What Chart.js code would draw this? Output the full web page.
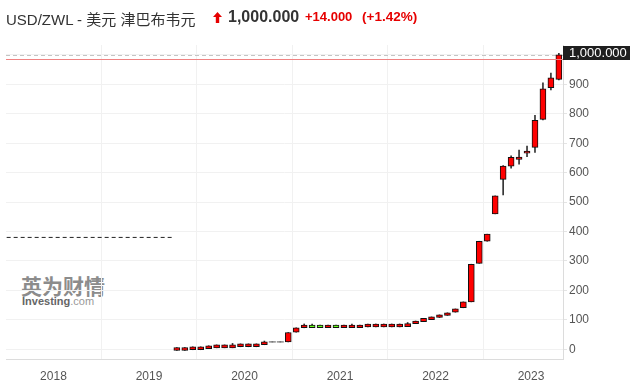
<!DOCTYPE html>
<html>
<head>
<meta charset="utf-8">
<script src="https://cdn.jsdelivr.net/npm/chart.js@4/dist/chart.umd.min.js"></script>
<style>
  body { margin:0; background:#fff; }
  #wrap { position:relative; width:630px; height:389px; overflow:hidden; }
  #c { position:absolute; left:0; top:0; z-index:2; }
  .t { position:absolute; white-space:nowrap; line-height:20px; z-index:3; }
  .wm { position:absolute; z-index:1; white-space:nowrap; }
</style>
</head>
<body>
<div id="wrap">
  <div class="wm" style="left:21px;top:273px;color:#8c8c8c;font:bold 21px 'Noto Sans CJK SC';line-height:24px;">英为财情</div>
  <div class="wm" style="left:22px;top:295px;font:11px 'Liberation Sans',Arial,sans-serif;line-height:13px;"><b style="color:#666">Investing</b><span style="color:#999">.com</span></div>
  <canvas id="c" width="630" height="389"></canvas>
  <div class="t" style="left:6px;top:8px;font:15px 'Liberation Sans','Noto Sans CJK SC',sans-serif;color:#333;">USD/ZWL - 美元 津巴布韦元</div>
  <svg class="t" style="left:213px;top:12px" width="9" height="11" viewBox="0 0 9 11"><polygon points="4.5,0 9,5 6.2,5 6.2,11 2.8,11 2.8,5 0,5" fill="#e60000"/></svg>
  <div class="t" style="left:228px;top:8px;font:bold 16px 'Liberation Sans',Arial,sans-serif;color:#333;">1,000.000</div>
  <div class="t" style="left:305px;top:9px;font:bold 13px 'Liberation Sans',Arial,sans-serif;color:#e60000;">+14.000</div>
  <div class="t" style="left:362px;top:9px;font:bold 13.5px 'Liberation Sans',Arial,sans-serif;color:#e60000;">(+1.42%)</div>
</div>
<script>
// ---- data (monthly candles, USD/ZWL) ----
const months = ['2019-04','2019-05','2019-06','2019-07','2019-08','2019-09','2019-10','2019-11','2019-12',
  '2020-01','2020-02','2020-03','2020-04','2020-05','2020-06','2020-07','2020-08','2020-09','2020-10','2020-11','2020-12',
  '2021-01','2021-02','2021-03','2021-04','2021-05','2021-06','2021-07','2021-08','2021-09','2021-10','2021-11','2021-12',
  '2022-01','2022-02','2022-03','2022-04','2022-05','2022-06','2022-07','2022-08','2022-09','2022-10','2022-11','2022-12',
  '2023-01','2023-02','2023-03','2023-04'];
const opens  = [-4,-4,-1.5,-1.5,2,5,5,5,8.5, 8.5,8.5,15.5,25,25,25,58,73,82,82,73,82, 73,73,73,76,76,76,76,76,77,87,94,101, 108,115,126,141,161,292,367,460,577,622,645,666, 686,781,889,917];
const closes = [6,6,8.5,8.5,12,15,15,15,18.5, 18.5,18.5,25.5,25,25,57,73,82,73,73,82,73, 82,82,82,86,86,86,86,86,87,96,105,110, 117,124,137,161,289,367,391,521,622,652,653,673, 778,885,922,1000];
const highs  = [6,6,8.5,8.5,12,15,15,20,18.5, 18.5,18.5,28,25,25,57,73,86,86,82,82,82, 82,86,82,86,86,86,86,86,91,96,105,110, 117,124,137,161,289,367,391,521,624,657,677,690, 795,905,938,1005];
const lows   = [-4,-4,-1.5,-1.5,2,5,5,5,8.5, 8.5,8.5,15.5,25,25,25,58,73,73,73,73,73, 73,73,73,76,76,76,76,76,77,87,94,101, 108,115,126,141,161,292,367,460,524,615,629,654, 669,779,881,915];
const yTicks = [0,100,200,300,400,500,600,700,800,900,1000];
const xTicks = [2018,2019,2020,2021,2022,2023];
const lastPrice = 1000;
const prevClose = 986;
const lastLabel = '1,000.000';
const refLineX = [2017.51, 2019.24];
const refLineY = [380, 380];

// ---- build ----
const xs = months.map(m => { const [y, mo] = m.split('-').map(Number); return y + (mo - 0.5) / 12; });
const bodies = xs.map((x, i) => ({ x, y: opens[i] === closes[i] ? null : [opens[i], closes[i]] }));
const bodyColors = xs.map((x, i) => closes[i] >= opens[i] ? '#ff0000' : '#66ff1a');
const wicks = xs.map((x, i) => ({ x, y: [lows[i], highs[i]] }));
const flats = xs.map((x, i) => ({ x, y: opens[i] })).filter((p, i) => opens[i] === closes[i]);

Chart.defaults.font.family = "'Liberation Sans', Arial, sans-serif";
Chart.defaults.font.size = 12;
Chart.defaults.color = '#555';

const overlay = {
  id: 'overlay',
  beforeDatasetsDraw(chart) {
    const ctx = chart.ctx, a = chart.chartArea, ys = chart.scales.y;
    ctx.save();
    ctx.lineWidth = 1;
    const py = Math.round(ys.getPixelForValue(lastPrice)) + 0.5;
    ctx.strokeStyle = '#c4c4c4';
    ctx.setLineDash([4, 3]);
    ctx.beginPath(); ctx.moveTo(a.left, py); ctx.lineTo(a.right, py); ctx.stroke();
    ctx.restore();
  },
  afterDraw(chart) {
    const ctx = chart.ctx, a = chart.chartArea, ys = chart.scales.y;
    ctx.save();
    const ry = Math.round(ys.getPixelForValue(prevClose));
    ctx.fillStyle = 'rgb(240,130,130)';
    ctx.fillRect(a.left, ry, a.right - a.left, 1);
    const py = ys.getPixelForValue(lastPrice) - 2;
    ctx.fillStyle = '#1f1f1f';
    ctx.fillRect(a.right, Math.round(py - 7), chart.width - a.right, 14);
    ctx.fillStyle = '#ffffff';
    ctx.font = "13px 'Liberation Sans', Arial, sans-serif";
    ctx.textBaseline = 'middle';
    ctx.textAlign = 'left';
    ctx.fillText(lastLabel, a.right + 6, py + 0.5);
    ctx.restore();
  }
};

new Chart(document.getElementById('c'), {
  type: 'bar',
  data: {
    datasets: [
      { type: 'bar', data: bodies, backgroundColor: bodyColors, borderColor: '#111', borderWidth: 1,
        borderSkipped: false, barThickness: 6, grouped: false, order: 0 },
      { type: 'line', data: flats, showLine: false, pointStyle: 'line', pointRadius: 3.5,
        borderColor: '#555', borderWidth: 1, order: 1 },
      { type: 'bar', data: wicks, backgroundColor: '#333', borderWidth: 0, barThickness: 1, grouped: false, order: 2 },
      { type: 'line', data: refLineX.map((x, i) => ({ x, y: refLineY[i] })), borderColor: '#222', borderWidth: 1,
        borderDash: [4, 3], pointRadius: 0, order: 3 }
    ]
  },
  options: {
    responsive: false,
    devicePixelRatio: 1,
    animation: false,
    layout: { padding: { top: 45, left: 6, right: 0, bottom: 0 } },
    plugins: { legend: { display: false }, tooltip: { enabled: false } },
    scales: {
      x: {
        type: 'linear', offset: false, min: 2017.503, max: 2023.335,
        afterBuildTicks: s => { s.ticks = xTicks.map(v => ({ value: v })); },
        afterFit: s => { s.height = 30; },
        ticks: { callback: v => String(v), padding: 10, maxRotation: 0, color: '#555' },
        grid: { color: '#f1f1f1', drawTicks: false },
        border: { color: '#dcdcdc' }
      },
      y: {
        position: 'right', min: -33, max: 1033.6,
        afterBuildTicks: s => { s.ticks = yTicks.map(v => ({ value: v })); },
        afterFit: s => { s.width = 67; },
        ticks: { callback: v => v === lastPrice ? '' : String(v), padding: 2, color: '#555' },
        grid: { color: '#f1f1f1', tickLength: 4, tickColor: '#e4e4e4' },
        border: { color: '#dcdcdc' }
      }
    }
  },
  plugins: [overlay]
});
</script>
</body>
</html>
